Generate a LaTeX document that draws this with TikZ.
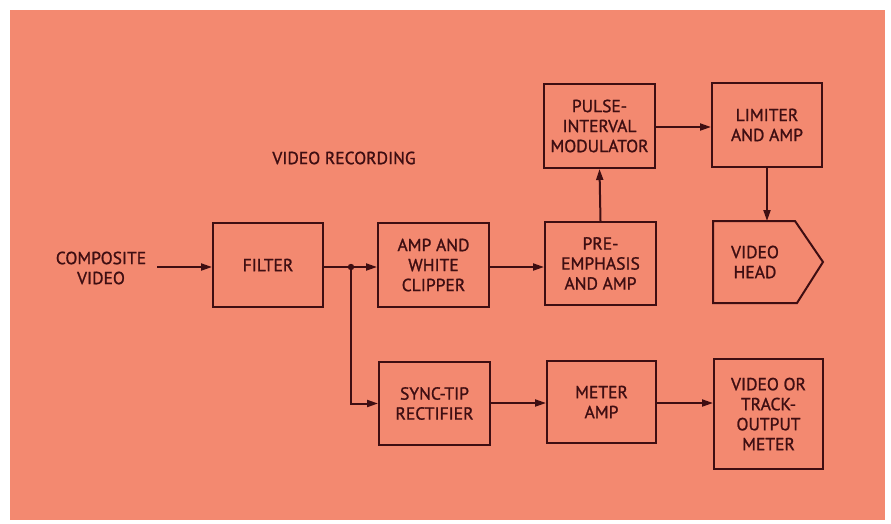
\documentclass[tikz,border=0pt]{standalone}
\usepackage{fontspec}
\setmainfont{PT Sans}[FakeBold=1.2]
\usetikzlibrary{arrows.meta}
\definecolor{bgcoral}{RGB}{243,137,112}
\definecolor{inkdark}{RGB}{62,14,18}
\tikzset{
  box/.style={draw=inkdark, line width=2pt, minimum width=110pt, minimum height=84pt,
    inner sep=0pt, align=center, text=inkdark, font=\fontsize{17.5}{20}\selectfont},
  lbl/.style={text=inkdark, align=center, font=\fontsize{17.5}{20}\selectfont, inner sep=0pt},
  conn/.style={draw=inkdark, line width=2pt, -{Triangle[length=11pt,width=7pt]}},
  wire/.style={draw=inkdark, line width=2pt}
}
\begin{document}
\begin{tikzpicture}[x=1pt,y=-1pt]
\useasboundingbox (0,0) rectangle (891,523);
\fill[white] (0,0) rectangle (891,523);
\fill[bgcoral] (10,10) rectangle (885,520);

\node[lbl] (title) at (344,158) {VIDEO RECORDING};
\node[lbl] (comp) at (101,268) {COMPOSITE\\VIDEO};

\node[box] (filter) at (268,265) {FILTER};
\node[box, minimum width=111pt] (amp) at (433.5,265) {AMP AND\\WHITE\\CLIPPER};
\node[box, minimum width=111pt, minimum height=83pt] (pre) at (600.5,263.5) {PRE-\\EMPHASIS\\AND AMP};
\node[box, minimum width=111pt] (pulse) at (599.5,126) {PULSE-\\INTERVAL\\MODULATOR};
\node[box] (lim) at (767,125) {LIMITER\\AND AMP};
\node[lbl] (head) at (755,262) {VIDEO\\HEAD};
\coordinate (headtop) at (767,221);
\draw[draw=inkdark, line width=2pt, line join=miter]
  (713,221) -- (795,221) -- (823,262) -- (797,303) -- (713,303) -- cycle;

\node[box, minimum width=111pt, minimum height=83pt] (sync) at (434.5,403.5) {SYNC-TIP\\RECTIFIER};
\node[box, minimum width=109pt, minimum height=82pt] (meter) at (601.5,402) {METER\\AMP};
\node[box, minimum width=109pt, minimum height=110pt] (vout) at (768.5,414) {VIDEO OR\\TRACK-\\OUTPUT\\METER};

\coordinate (cin) at (157,267);
\coordinate (junc) at (351,267);

\draw[conn] (cin) -- (cin -| filter.west);
\draw[wire] (filter.east |- junc) -- (junc);
\fill[inkdark] (junc) circle (3.2pt);
\draw[conn] (junc) -- (junc -| amp.west);
\draw[conn] (junc) |- (sync.west);
\draw[conn] (amp.east |- junc) -- (junc -| pre.west);
\draw[conn] (pre.north) -- (pulse.south);
\draw[conn] (pulse.east |- 0,127) -- (lim.west |- 0,127);
\draw[conn] (lim.south) -- (headtop);
\draw[conn] (sync.east |- 0,403) -- (meter.west |- 0,403);
\draw[conn] (meter.east |- 0,403) -- (vout.west |- 0,403);
\end{tikzpicture}
\end{document}
